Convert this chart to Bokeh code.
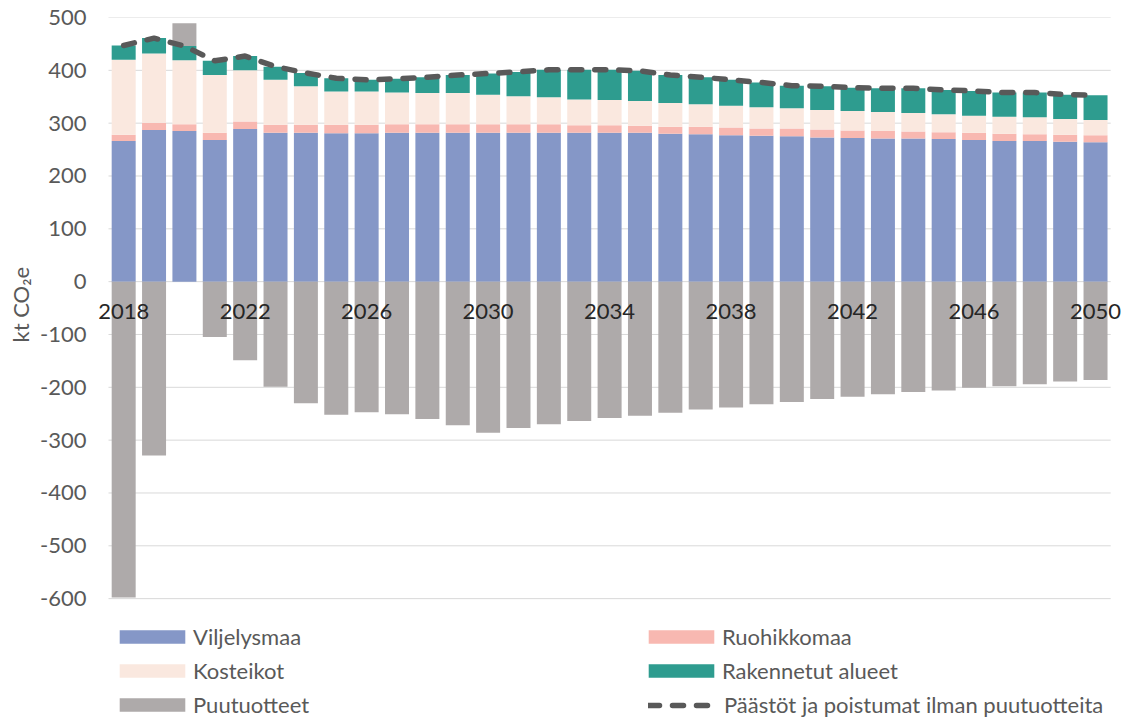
import numpy as np
from bokeh.plotting import figure
from bokeh.models import ColumnDataSource, FixedTicker, Legend, LegendItem, Range1d, Title
from bokeh.embed import file_html
from bokeh.resources import INLINE

# Land-use sector emissions and removals, kt CO2e
years = list(range(2018, 2051))
viljelysmaa = [266, 287, 285, 268, 289, 282, 282, 281, 281, 282, 282, 282, 282, 282, 282, 282, 282,
               282, 280, 279, 277, 276, 275, 273, 272, 271, 271, 270, 268, 266, 266, 265, 264]
ruohikkomaa = [12, 14, 13, 14, 14, 15, 15, 16, 16, 16, 16, 16, 16, 16, 16, 14, 14,
               13, 13, 14, 15, 14, 15, 15, 14, 14, 13, 13, 14, 14, 13, 13, 13]
kosteikot = [142, 131, 121, 109, 97, 85, 73, 63, 63, 60, 59, 59, 56, 53, 51, 49, 48,
             47, 45, 43, 41, 40, 38, 37, 37, 36, 35, 34, 32, 32, 32, 30, 29]
rakennetut = [27, 29, 27, 27, 27, 25, 25, 25, 22, 26, 30, 34, 40, 46, 52, 56, 57,
              57, 53, 51, 49, 47, 43, 45, 44, 45, 47, 46, 47, 46, 47, 46, 47]
puutuotteet = [-598, -329, 43, -105, -149, -199, -230, -252, -247, -251, -260, -272, -286, -277, -270, -264, -258,
               -254, -248, -242, -238, -232, -228, -222, -218, -213, -209, -206, -201, -198, -194, -189, -186]

year_ticks = [2018, 2022, 2026, 2030, 2034, 2038, 2042, 2046, 2050]
value_ticks = [-600, -500, -400, -300, -200, -100, 0, 100, 200, 300, 400, 500]

line_name = "Päästöt ja poistumat ilman puutuotteita"
colors = {
    "Viljelysmaa": "#8597C7",
    "Ruohikkomaa": "#F8B8B1",
    "Kosteikot": "#FAE8DF",
    "Rakennetut alueet": "#2E9C8F",
    "Puutuotteet": "#AEAAAA",
}

FONT = "Lato"
TEXT = "#595959"

# stack the positive land-use categories
vil = np.array(viljelysmaa, float)
ruo = np.array(ruohikkomaa, float)
kos = np.array(kosteikot, float)
rak = np.array(rakennetut, float)
puu = np.array(puutuotteet, float)

b1 = np.zeros_like(vil)
t1 = b1 + vil
t2 = t1 + ruo
t3 = t2 + kos
t4 = t3 + rak
total = t4  # emissions and removals without wood products

# wood products go below zero when negative, on top of the stack when positive
puu_bottom = np.where(puu > 0, total, 0.0)
puu_top = np.where(puu > 0, total + puu, puu)

src = ColumnDataSource(dict(
    x=years,
    b1=b1, t1=t1, t2=t2, t3=t3, t4=t4,
    pb=puu_bottom, pt=puu_top, total=total,
))

# category slots span 2017.5 .. 2050.5; the frame is a little wider so
# the end year labels are not clipped
X0, X1 = years[0] - 0.5, years[-1] + 0.5
p = figure(width=1123, height=717, output_backend="svg", toolbar_location=None,
           x_range=Range1d(2017.171, 2050.921), y_range=Range1d(-825, 500),
           min_border_left=98, min_border_right=0, min_border_top=17, min_border_bottom=0)
p.outline_line_color = None
p.background_fill_color = "white"

# horizontal gridlines across the category slots only
p.xgrid.visible = False
p.ygrid.visible = False
p.segment(x0=[X0] * len(value_ticks), x1=[X1] * len(value_ticks), y0=value_ticks, y1=value_ticks,
          line_color="#D9D9D9", line_width=1)

BW = 0.79
r_vil = p.vbar(x="x", width=BW, bottom="b1", top="t1", source=src,
               fill_color=colors["Viljelysmaa"], line_color=None)
r_ruo = p.vbar(x="x", width=BW, bottom="t1", top="t2", source=src,
               fill_color=colors["Ruohikkomaa"], line_color=None)
r_kos = p.vbar(x="x", width=BW, bottom="t2", top="t3", source=src,
               fill_color=colors["Kosteikot"], line_color=None)
r_rak = p.vbar(x="x", width=BW, bottom="t3", top="t4", source=src,
               fill_color=colors["Rakennetut alueet"], line_color=None)
r_puu = p.vbar(x="x", width=BW, bottom="pb", top="pt", source=src,
               fill_color=colors["Puutuotteet"], line_color=None)
r_line = p.line(x="x", y="total", source=src, line_color="#595959", line_width=5.5,
                line_dash="11 13", line_cap="round")

# value axis
ya = p.yaxis[0]
ya.ticker = FixedTicker(ticks=value_ticks)
ya.major_label_overrides = {v: str(v) for v in value_ticks}
ya.axis_line_color = None
ya.major_tick_line_color = None
ya.minor_tick_line_color = None
ya.major_label_standoff = 6
ya.major_label_text_font = FONT
ya.major_label_text_font_size = "22px"
ya.major_label_text_color = TEXT

# value axis title, placed beside the -600..500 span rather than the whole frame
p.add_layout(Title(text="kt CO₂e", align="left", offset=375, standoff=8,
                   text_font=FONT, text_font_size="22px", text_font_style="normal",
                   text_color=TEXT), "left")

# year axis sits on the zero line
xa = p.xaxis[0]
xa.fixed_location = 0
xa.ticker = FixedTicker(ticks=year_ticks)
xa.major_label_overrides = {y: str(y) for y in year_ticks}
xa.axis_line_color = None
xa.major_tick_line_color = None
xa.minor_tick_line_color = None
xa.major_label_standoff = 16
xa.major_label_text_font = FONT
xa.major_label_text_font_size = "22px"
xa.major_label_text_color = "#262626"


def make_legend(items, loc, glyph_width, glyph_height, standoff):
    return Legend(items=items, location=loc, orientation="vertical",
                  glyph_width=glyph_width, glyph_height=glyph_height, label_standoff=standoff,
                  spacing=7, padding=0, margin=0, border_line_color=None, background_fill_alpha=0,
                  label_text_font=FONT, label_text_font_size="22px", label_text_color=TEXT)


# bar swatches are drawn inset by 10 %, so the glyph box is a bit larger
p.add_layout(make_legend([LegendItem(label="Viljelysmaa", renderers=[r_vil]),
                          LegendItem(label="Kosteikot", renderers=[r_kos]),
                          LegendItem(label="Puutuotteet", renderers=[r_puu])],
                         (13, -1), 82, 17, 0))
p.add_layout(make_legend([LegendItem(label="Ruohikkomaa", renderers=[r_ruo]),
                          LegendItem(label="Rakennetut alueet", renderers=[r_rak])],
                         (542, 33), 82, 17, 0))
p.add_layout(make_legend([LegendItem(label=line_name, renderers=[r_line])],
                         (550, -1), 68, 14, 8))

open("out.html", "w").write(file_html(p, INLINE))
